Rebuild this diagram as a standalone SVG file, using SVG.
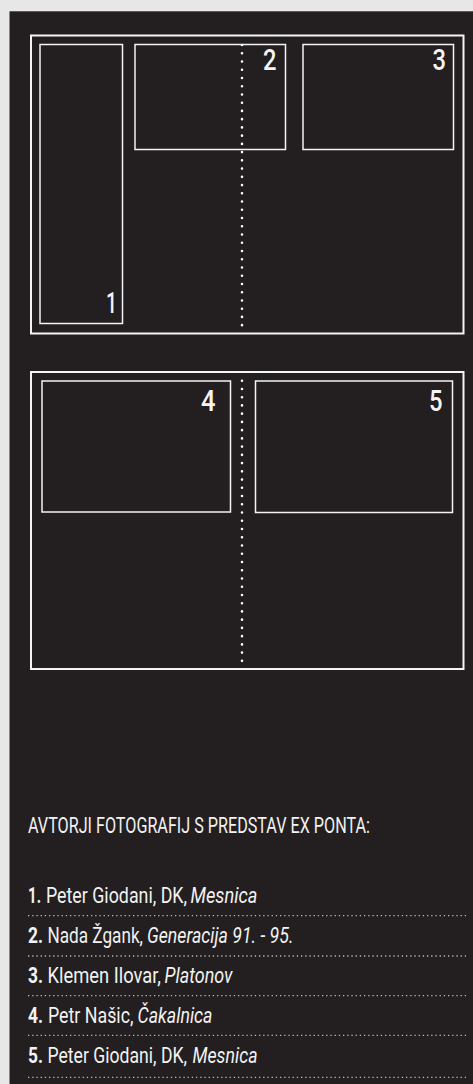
<svg xmlns="http://www.w3.org/2000/svg" width="473" height="1084" viewBox="0 0 473 1084">
<style>
.frame{fill:none;stroke:#f4f4f4;stroke-width:2}
.box{fill:none;stroke:#f4f4f4;stroke-width:1.5}
.fold{stroke:#ffffff;stroke-width:2.6;stroke-linecap:round;stroke-dasharray:0 8.24;fill:none}
.rule{stroke:#b9b9b9;stroke-width:1.3;stroke-dasharray:1.3 2.9;fill:none}
.num{font-family:Roboto,"Liberation Sans",sans-serif;font-size:29px;font-weight:500;fill:#f4f4f4}
.txt{font-family:Roboto,"Liberation Sans",sans-serif;font-size:16px;font-weight:400;fill:#f2f2f2}
.b{font-weight:700}
.i{font-style:italic}
</style>
<rect x="0" y="0" width="473" height="1084" fill="#e7e7e7"/>
<rect x="9.5" y="11.3" width="463.5" height="1072.7" fill="#231f20"/>
<g id="spread-1">
<rect class="frame" x="31" y="35.5" width="432.5" height="298"/>
</g>
<g id="spread-2">
<rect class="frame" x="31" y="372" width="432.5" height="297"/>
</g>
<g id="connectors">
<line class="fold" x1="242" y1="45" x2="242" y2="325.3"/>
<line class="fold" x1="242" y1="380.7" x2="242" y2="661"/>
</g>
<g id="photo-1">
<rect class="box" x="40" y="44.5" width="82.5" height="279"/>
<text class="num" x="106" y="313.3" textLength="11" lengthAdjust="spacingAndGlyphs">1</text>
</g>
<g id="photo-2">
<rect class="box" x="135" y="44.5" width="150.5" height="105"/>
<text class="num" x="263" y="70.3" textLength="13.5" lengthAdjust="spacingAndGlyphs">2</text>
</g>
<g id="photo-3">
<rect class="box" x="303" y="44.5" width="150.5" height="105"/>
<text class="num" x="432.5" y="70.3" textLength="13.5" lengthAdjust="spacingAndGlyphs">3</text>
</g>
<g id="photo-4">
<rect class="box" x="42" y="381" width="188.5" height="131"/>
<text class="num" x="201" y="410.7" textLength="14.5" lengthAdjust="spacingAndGlyphs">4</text>
</g>
<g id="photo-5">
<rect class="box" x="255.5" y="381" width="197" height="131.5"/>
<text class="num" x="429" y="410.7" textLength="13.5" lengthAdjust="spacingAndGlyphs">5</text>
</g>
<g id="credits">
<g transform="translate(0,832.7) scale(1,1.33)">
<text class="txt" x="28" y="0" textLength="342" lengthAdjust="spacingAndGlyphs">AVTORJI FOTOGRAFIJ S PREDSTAV EX PONTA:</text>
</g>
<g transform="translate(0,902.7) scale(1,1.33)">
<text class="txt b" x="28" y="0" textLength="13" lengthAdjust="spacingAndGlyphs">1.</text>
<text class="txt" x="46" y="0" textLength="141" lengthAdjust="spacingAndGlyphs">Peter Giodani, DK,</text>
<text class="txt i" x="190.5" y="0" textLength="67" lengthAdjust="spacingAndGlyphs">Mesnica</text>
</g>
<line class="rule" x1="28" y1="915.7" x2="466" y2="915.7"/>
<g transform="translate(0,943.3) scale(1,1.33)">
<text class="txt b" x="28" y="0" textLength="15" lengthAdjust="spacingAndGlyphs">2.</text>
<text class="txt" x="47.5" y="0" textLength="95.5" lengthAdjust="spacingAndGlyphs">Nada Žgank,</text>
<text class="txt i" x="147" y="0" textLength="146.5" lengthAdjust="spacingAndGlyphs">Generacija 91. - 95.</text>
</g>
<line class="rule" x1="28" y1="956" x2="466" y2="956"/>
<g transform="translate(0,983.3) scale(1,1.33)">
<text class="txt b" x="28" y="0" textLength="15" lengthAdjust="spacingAndGlyphs">3.</text>
<text class="txt" x="47.5" y="0" textLength="113.5" lengthAdjust="spacingAndGlyphs">Klemen Ilovar,</text>
<text class="txt i" x="164.5" y="0" textLength="68" lengthAdjust="spacingAndGlyphs">Platonov</text>
</g>
<line class="rule" x1="28" y1="995.7" x2="466" y2="995.7"/>
<g transform="translate(0,1022.7) scale(1,1.33)">
<text class="txt b" x="28" y="0" textLength="15" lengthAdjust="spacingAndGlyphs">4.</text>
<text class="txt" x="48" y="0" textLength="85.5" lengthAdjust="spacingAndGlyphs">Petr Našic,</text>
<text class="txt i" x="137.5" y="0" textLength="75" lengthAdjust="spacingAndGlyphs">Čakalnica</text>
</g>
<line class="rule" x1="28" y1="1035.3" x2="466" y2="1035.3"/>
<g transform="translate(0,1063.3) scale(1,1.33)">
<text class="txt b" x="28" y="0" textLength="15" lengthAdjust="spacingAndGlyphs">5.</text>
<text class="txt" x="47.5" y="0" textLength="139.5" lengthAdjust="spacingAndGlyphs">Peter Giodani, DK,</text>
<text class="txt i" x="192.5" y="0" textLength="65" lengthAdjust="spacingAndGlyphs">Mesnica</text>
</g>
<line class="rule" x1="28" y1="1077.3" x2="466" y2="1077.3"/>
</g>
</svg>
